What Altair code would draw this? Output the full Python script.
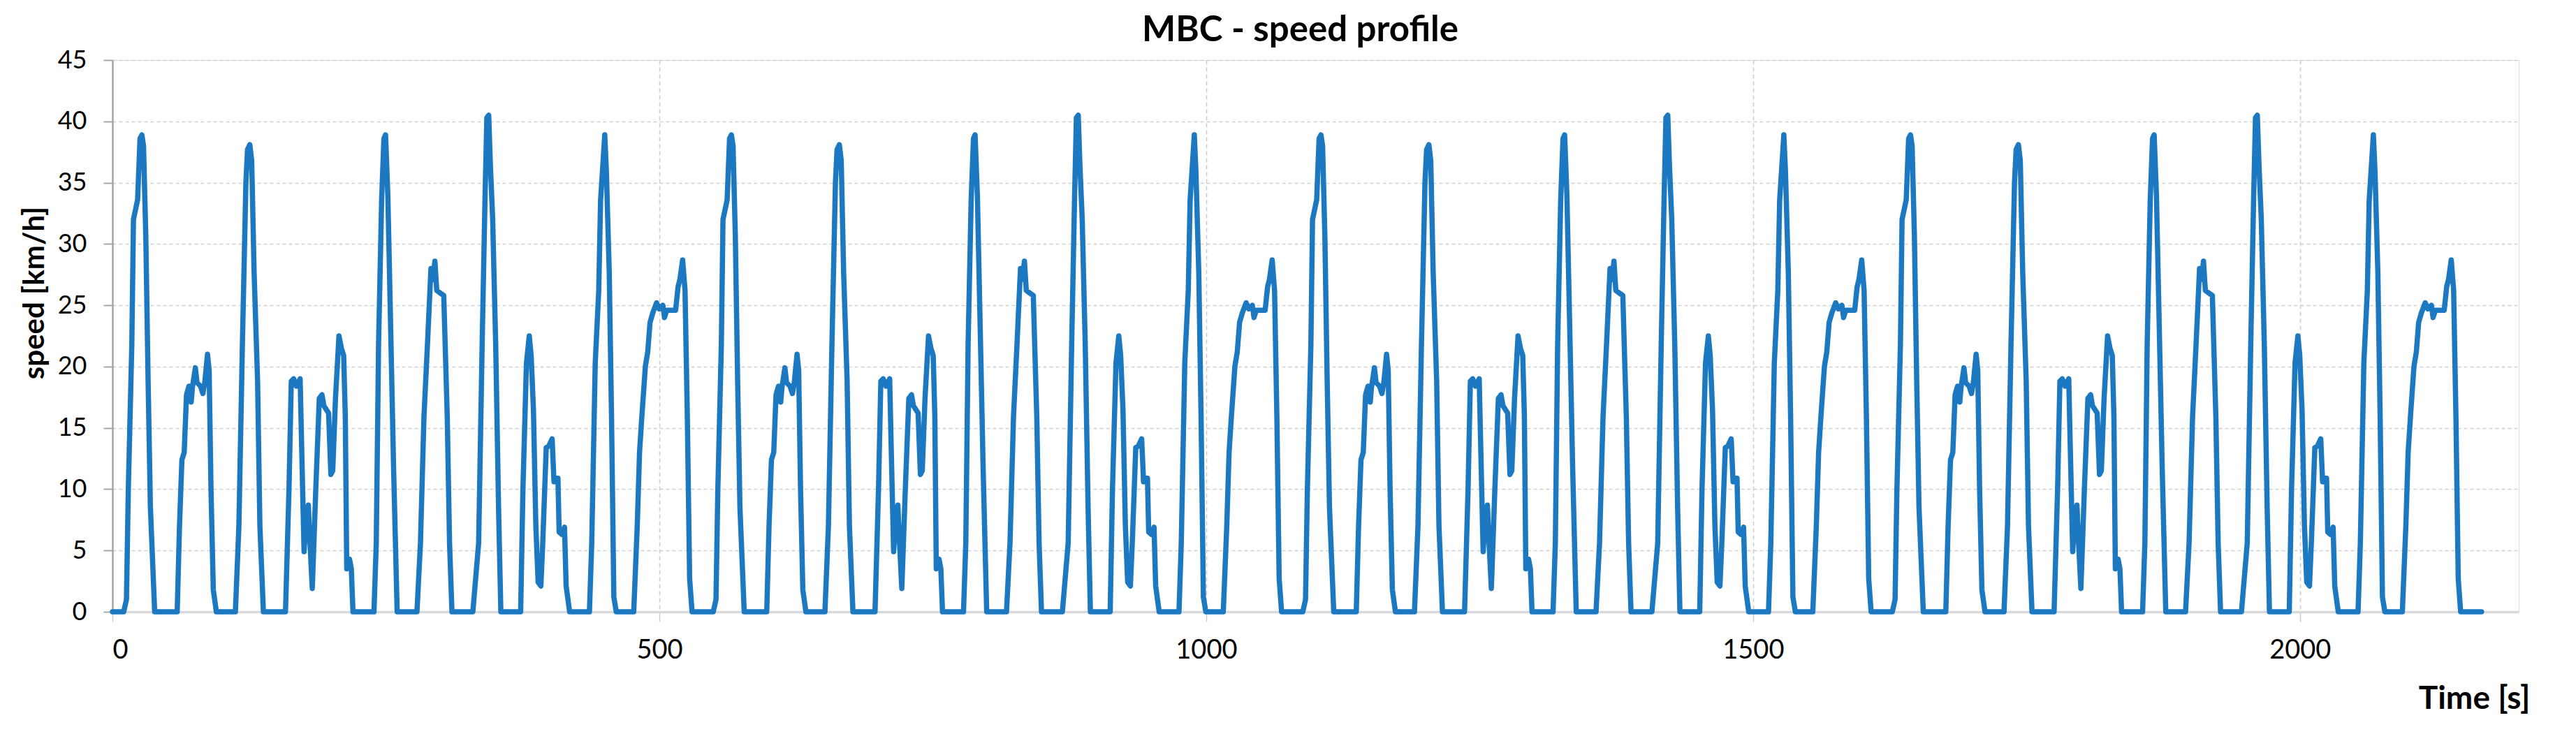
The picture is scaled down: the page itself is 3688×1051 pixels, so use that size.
import altair as alt
import pandas as pd

# One driving cycle of the MBC profile (time s, speed km/h)
cycle_time = [0, 10.3, 12.8, 14.5, 17.7, 19.2, 23, 25.2, 26.9, 28.4, 30.5, 32.6, 34.7, 38.6,
              59.2, 61.3, 63.5, 65.6, 67.7, 69.9, 72, 73.1, 75.8, 77.3, 80.5, 82.7, 84.4, 86.9, 88.4, 90.1, 92.2, 95,
              112.4, 115.6, 118.8, 122, 123.5, 125.6, 127.3, 129.5, 132.7, 134.8, 138,
              158.2, 161.4, 163.5, 165.7, 168.2, 171.6, 173.1, 175.2, 176.7, 179.1, 180.6, 182.7, 185.9, 189.1,
              191.6, 193.3, 197.6, 199.7, 201.4, 203.9, 207.1, 209.3, 211.4, 212.9, 214.2, 216.7, 218.4, 219.9,
              239.1, 241.2, 243.3, 246.1, 248.2, 249.7, 251.8, 254, 257.1, 260.3,
              278.4, 281.6, 284.8, 288, 291.2, 292.9, 294.8, 296.5, 299.7, 302.9, 306.1, 308.2, 310.4,
              329.5, 334.8, 338, 340.6, 342.3, 344, 345.5, 347.6, 350.4, 353, 355.1,
              373.2, 375.3, 378.5, 381.1, 382.8, 384.9, 387.1, 389.2, 391.7, 393.4, 396.6, 398.8, 402, 403.7,
              405.8, 407.3, 408.4, 411, 413.3, 414.8, 418,
              436.1, 438.2, 441.4, 444.6, 446.3, 448.4, 450.1, 451.6, 454.2, 456.3, 458.4, 460.6,
              476.6, 479.8, 481.9, 484, 487.2, 489.4, 491.5, 494.1, 497.5, 500, 503.2, 504.7, 506.8, 510.7,
              514.9, 517.1, 518.8, 521.3, 523.5, 525.6, 527.7, 529.9]
cycle_speed = [0, 0, 1, 10, 21.8, 32, 33.6, 38.6, 38.9, 38, 30.6, 18.8, 8.5, 0,
               0, 7, 12.4, 13, 17.7, 18.4, 17.1, 18.3, 19.9, 18.7, 18.4, 17.8, 18.7, 21, 19.7, 10, 1.8, 0,
               0, 7, 21.8, 35, 37.7, 38.1, 36.8, 27.7, 18.8, 7, 0,
               0, 10, 18.8, 19, 18.4, 19, 13, 4.9, 7, 8.7, 5.6, 1.9, 10, 17.4,
               17.7, 16.8, 16.2, 11.2, 11.5, 17.4, 22.5, 21.5, 20.9, 15.9, 3.5, 4.3, 3.5, 0,
               0, 5.6, 21.8, 33.6, 38.6, 38.9, 33.9, 24.7, 11.5, 0,
               0, 5.6, 15.9, 21.8, 28, 27.1, 28.6, 26.2, 26, 25.8, 15.9, 5.6, 0,
               0, 5.6, 21.8, 33.6, 40.3, 40.5, 36.5, 32.1, 21.8, 8.5, 0,
               0, 10, 20.3, 22.5, 20.9, 16.5, 7, 2.4, 2.1, 5.6, 13.4, 13.5, 14.1, 10.6,
               10.9, 10.9, 6.5, 6.3, 6.9, 2.1, 0,
               0, 5.6, 20.3, 26.2, 33.6, 36.5, 38.9, 35.9, 27.7, 15.9, 1.2, 0,
               0, 7, 13, 15.9, 20, 21.2, 23.6, 24.4, 25.2, 24.7, 25, 24, 24.6, 24.6,
               24.6, 26.5, 27.1, 28.7, 26.2, 15.9, 2.7, 0]
# start times of the four repetitions seen in the picture, and the final idle point
cycle_starts = [0, 539, 1078, 1617]
end_time = [2166]
end_speed = [0]

x_ticks = [0, 500, 1000, 1500, 2000]
y_ticks = [0, 5, 10, 15, 20, 25, 30, 35, 40, 45]

rows = []
for s in cycle_starts:
    for t, v in zip(cycle_time, cycle_speed):
        rows.append({"t": s + t, "v": v})
for t, v in zip(end_time, end_speed):
    rows.append({"t": t, "v": v})
df = pd.DataFrame(rows)

FONT = "Lato"

chart = alt.Chart(df).mark_line(
    color="#1c78c0", strokeWidth=7.5, strokeJoin="round", strokeCap="round"
).encode(
    x=alt.X("t:Q", scale=alt.Scale(domain=[0, 2200], nice=False, zero=False),
            axis=alt.Axis(values=x_ticks, format="d", title="Time [s]", grid=True,
                          gridDash=[6, 4], gridColor="#cccccc", gridWidth=1.5,
                          domainColor="#d9d9d9", domainWidth=3.5,
                          tickColor="#cccccc", tickSize=14, tickWidth=1.5,
                          labelFontSize=38, labelFont=FONT, labelColor="#000000",
                          labelPadding=22, labelBaseline="top",
                          titleFontSize=46, titleFont=FONT, titleFontWeight="bold",
                          titleColor="#000000", titleAlign="right", titleBaseline="middle",
                          titleX=3461, titleY=124)),
    y=alt.Y("v:Q", scale=alt.Scale(domain=[0, 45], nice=False),
            axis=alt.Axis(values=y_ticks, title="speed [km/h]", grid=True,
                          gridDash=[5, 4], gridColor="#d0d0d0", gridWidth=1.5,
                          domainColor="#a6a6a6", domainWidth=2.5,
                          tickColor="#a6a6a6", tickSize=13, tickWidth=2,
                          labelFontSize=36, labelFont=FONT, labelColor="#000000",
                          labelPadding=24,
                          titleFontSize=42, titleFont=FONT, titleFontWeight="bold",
                          titleColor="#000000", titleAngle=270, titleAlign="center",
                          titleBaseline="middle", titleX=-112, titleY=333)),
).properties(
    width=3445,
    height=790,
    title=alt.TitleParams("MBC - speed profile", fontSize=51, font=FONT, fontWeight="bold",
                          color="#000000", anchor="middle", frame="group",
                          baseline="middle", offset=-27, dx=-22),
    autosize=alt.AutoSizeParams(type="none"),
    padding={"left": 153, "top": 78, "right": 70, "bottom": 160},
).configure_view(stroke=None).configure(background="white")

chart.save("out.html", embed_options={"renderer": "svg", "actions": False})
